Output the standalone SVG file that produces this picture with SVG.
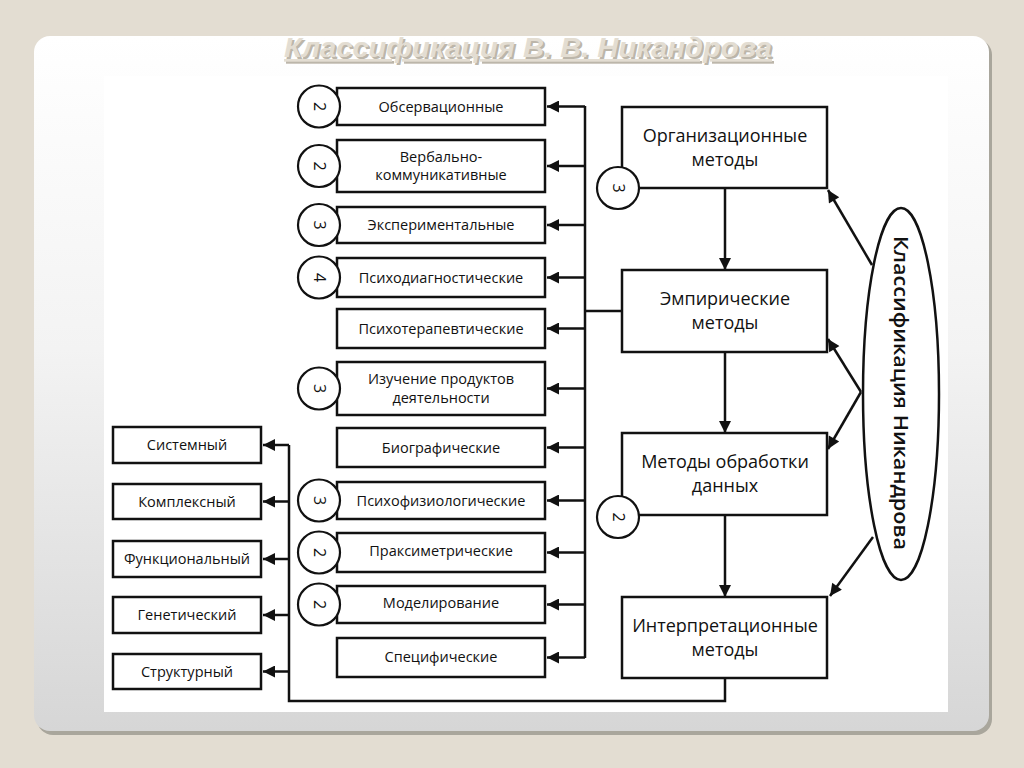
<svg xmlns="http://www.w3.org/2000/svg" width="1024" height="768" viewBox="0 0 1024 768">
<defs>
<linearGradient id="pg" x1="0" y1="0" x2="0" y2="1">
<stop offset="0" stop-color="#ffffff"/>
<stop offset="0.45" stop-color="#f3f3f3"/>
<stop offset="1" stop-color="#d6d6d6"/>
</linearGradient>
<marker id="ah" viewBox="0 0 10 10" refX="10" refY="5" markerUnits="userSpaceOnUse" markerWidth="15" markerHeight="12" orient="auto">
<path d="M0,0 L10,5 L0,10 z" fill="#111"/>
</marker>
<style>
.box{fill:#fff;stroke:#111;stroke-width:2.5}
.circ{fill:#fff;stroke:#111;stroke-width:2.2}
.t{font-family:"Open Sans","Noto Sans","DejaVu Sans",sans-serif;font-size:14.5px;fill:#111;text-anchor:middle}
.tb{font-family:"Open Sans","Noto Sans","DejaVu Sans",sans-serif;font-size:18px;fill:#111;text-anchor:middle}
.n{font-family:"Open Sans","Noto Sans","DejaVu Sans",sans-serif;font-size:16px;fill:#111;text-anchor:middle}
.c{fill:none;stroke:#111;stroke-width:2.5}
.ca{fill:none;stroke:#111;stroke-width:2.5;marker-end:url(#ah)}
.title{font-family:"Liberation Sans","Arial",sans-serif;font-size:27px;font-weight:bold;font-style:italic;text-anchor:middle;text-decoration:underline}
</style>
</defs>
<rect x="0" y="0" width="1024" height="768" fill="#e3ddd2"/>
<rect x="37" y="39" width="955" height="696" rx="16" fill="#a9a69c"/>
<rect x="34" y="36" width="955" height="695" rx="16" fill="url(#pg)"/>
<rect x="104" y="76" width="844" height="636" fill="#fff"/>

<g id="title">
<text class="title" x="530" y="59" fill="#bcb6aa" textLength="488" lengthAdjust="spacingAndGlyphs">Классификация В. В. Никандрова</text>
<text class="title" x="528" y="57" fill="#e3ddd2" textLength="488" lengthAdjust="spacingAndGlyphs">Классификация В. В. Никандрова</text>
</g>

<g id="connectors">
<path class="c" d="M585,106 V658"/>
<path class="c" d="M585,311 H622"/>
<path class="ca" d="M585,106.5 H547"/>
<path class="ca" d="M585,166 H547"/>
<path class="ca" d="M585,225 H547"/>
<path class="ca" d="M585,277.5 H547"/>
<path class="ca" d="M585,328.5 H547"/>
<path class="ca" d="M585,388.5 H547"/>
<path class="ca" d="M585,447.5 H547"/>
<path class="ca" d="M585,500.5 H547"/>
<path class="ca" d="M585,552.5 H547"/>
<path class="ca" d="M585,604.5 H547"/>
<path class="ca" d="M585,657.5 H547"/>
<path class="c" d="M725,678 V701 H289 V445"/>
<path class="ca" d="M289,445 H263"/>
<path class="ca" d="M289,501.5 H263"/>
<path class="ca" d="M289,559 H263"/>
<path class="ca" d="M289,615 H263"/>
<path class="ca" d="M289,671.5 H263"/>
<path class="ca" d="M725,188 V270"/>
<path class="ca" d="M725,352 V433"/>
<path class="ca" d="M725,515 V597"/>
<path class="ca" d="M872,265 L828,190"/>
<path class="ca" d="M861,392 L828,339"/>
<path class="ca" d="M861,392 L828,449"/>
<path class="ca" d="M873,537 L830,596"/>
</g>

<g id="n-obs"><rect class="box" x="337" y="88" width="208" height="37"/><text class="t" x="441" y="111.5">Обсервационные</text>
<circle class="circ" cx="319" cy="106.5" r="21"/><text class="n" transform="translate(319,106.5) rotate(90)" y="5.5">2</text></g>
<g id="n-verb"><rect class="box" x="337" y="140" width="208" height="52"/><text class="t" x="441" y="162">Вербально-</text><text class="t" x="441" y="180">коммуникативные</text>
<circle class="circ" cx="319" cy="166" r="21"/><text class="n" transform="translate(319,166) rotate(90)" y="5.5">2</text></g>
<g id="n-exp"><rect class="box" x="337" y="207" width="208" height="36"/><text class="t" x="441" y="230">Экспериментальные</text>
<circle class="circ" cx="319" cy="225" r="21"/><text class="n" transform="translate(319,225) rotate(90)" y="5.5">3</text></g>
<g id="n-psd"><rect class="box" x="337" y="258" width="208" height="39"/><text class="t" x="441" y="282.5">Психодиагностические</text>
<circle class="circ" cx="319" cy="277.5" r="21"/><text class="n" transform="translate(319,277.5) rotate(90)" y="5.5">4</text></g>
<g id="n-pst"><rect class="box" x="337" y="309" width="208" height="39"/><text class="t" x="441" y="333.5">Психотерапевтические</text></g>
<g id="n-izu"><rect class="box" x="337" y="362" width="208" height="53"/><text class="t" x="441" y="384">Изучение продуктов</text><text class="t" x="441" y="403">деятельности</text>
<circle class="circ" cx="319" cy="388.5" r="21"/><text class="n" transform="translate(319,388.5) rotate(90)" y="5.5">3</text></g>
<g id="n-bio"><rect class="box" x="337" y="428" width="208" height="39"/><text class="t" x="441" y="452.5">Биографические</text></g>
<g id="n-psf"><rect class="box" x="337" y="482" width="208" height="37"/><text class="t" x="441" y="505.5">Психофизиологические</text>
<circle class="circ" cx="319" cy="500.5" r="21"/><text class="n" transform="translate(319,500.5) rotate(90)" y="5.5">3</text></g>
<g id="n-prx"><rect class="box" x="337" y="533" width="208" height="39"/><text class="t" x="441" y="556">Праксиметрические</text>
<circle class="circ" cx="319" cy="552.5" r="21"/><text class="n" transform="translate(319,552.5) rotate(90)" y="5.5">2</text></g>
<g id="n-mod"><rect class="box" x="337" y="586" width="208" height="37"/><text class="t" x="441" y="608">Моделирование</text>
<circle class="circ" cx="319" cy="604.5" r="21"/><text class="n" transform="translate(319,604.5) rotate(90)" y="5.5">2</text></g>
<g id="n-spc"><rect class="box" x="337" y="638" width="208" height="39"/><text class="t" x="441" y="661.5">Специфические</text></g>

<g id="n-sys"><rect class="box" x="113" y="427" width="148" height="36"/><text class="t" x="187" y="450">Системный</text></g>
<g id="n-kom"><rect class="box" x="113" y="484" width="148" height="35"/><text class="t" x="187" y="506.5">Комплексный</text></g>
<g id="n-fun"><rect class="box" x="113" y="541" width="148" height="36"/><text class="t" x="187" y="564">Функциональный</text></g>
<g id="n-gen"><rect class="box" x="113" y="597" width="148" height="36"/><text class="t" x="187" y="620">Генетический</text></g>
<g id="n-str"><rect class="box" x="113" y="654" width="148" height="35"/><text class="t" x="187" y="676.5">Структурный</text></g>

<g id="n-org"><rect class="box" x="622" y="107" width="205" height="81"/><text class="tb" x="725" y="142">Организационные</text><text class="tb" x="725" y="166">методы</text>
<circle class="circ" cx="618" cy="188" r="21"/><text class="n" transform="translate(618,188) rotate(90)" y="5.5">3</text></g>
<g id="n-emp"><rect class="box" x="622" y="270" width="205" height="82"/><text class="tb" x="725" y="305">Эмпирические</text><text class="tb" x="725" y="329">методы</text></g>
<g id="n-obr"><rect class="box" x="622" y="433" width="205" height="82"/><text class="tb" x="725" y="468">Методы обработки</text><text class="tb" x="725" y="492">данных</text>
<circle class="circ" cx="618" cy="517" r="21"/><text class="n" transform="translate(618,517) rotate(90)" y="5.5">2</text></g>
<g id="n-int"><rect class="box" x="622" y="597" width="205" height="81"/><text class="tb" x="725" y="632">Интерпретационные</text><text class="tb" x="725" y="656">методы</text></g>

<g id="n-ell"><ellipse cx="901" cy="394" rx="38" ry="186" fill="#fff" stroke="#111" stroke-width="2.5"/>
<text transform="translate(901,393) rotate(90)" y="7" font-family="Open Sans, Noto Sans, sans-serif" font-size="20" font-weight="600" fill="#111" text-anchor="middle" textLength="314" lengthAdjust="spacingAndGlyphs">Классификация Никандрова</text></g>
</svg>
